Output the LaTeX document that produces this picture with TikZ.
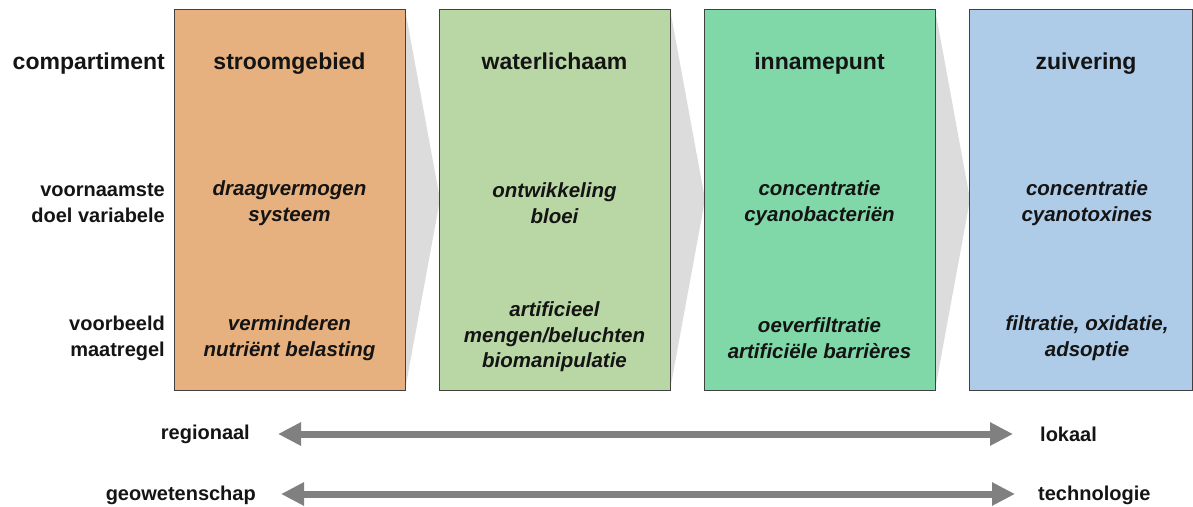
\documentclass[tikz,border=0pt]{standalone}
\usepackage{fontspec}
\setmainfont{Liberation Sans}
\usetikzlibrary{arrows.meta}
\definecolor{cOrange}{HTML}{E7B07F}
\definecolor{cLGreen}{HTML}{B8D7A4}
\definecolor{cMint}{HTML}{80D7A7}
\definecolor{cBlue}{HTML}{AECBE8}
\definecolor{cChev}{HTML}{DCDCDC}
\definecolor{cArrow}{HTML}{808080}
\definecolor{cBorder}{HTML}{404040}
\definecolor{cText}{HTML}{141414}
\begin{document}
\begin{tikzpicture}[x=1pt,y=-1pt,
  box/.style={draw=cBorder, line width=0.9pt, minimum width=231pt, minimum height=381pt, inner sep=0pt},
  hdr/.style={font=\fontsize{23}{27}\selectfont\bfseries, text=cText, inner sep=0pt, anchor=base},
  rowlab/.style={font=\fontsize{20}{26}\selectfont\bfseries, text=cText, inner sep=0pt, align=right, anchor=east},
  cell/.style={font=\fontsize{20.5}{25.5}\selectfont\bfseries\itshape, text=cText, inner sep=0pt, align=center},
  scalelab/.style={font=\fontsize{20}{24}\selectfont\bfseries, text=cText, inner sep=0pt},
  chev/.style={fill=cChev},
  arr/.style={line width=7pt, draw=cArrow, arrows={Triangle[width=22pt,length=23pt]-Triangle[width=22pt,length=23pt]}}
]
\useasboundingbox (0,0) rectangle (1193,506);
\fill[white] (0,0) rectangle (1193,506);
% chevrons between the boxes
\fill[chev] (405,9) -- (440,199.5) -- (405,390) -- cycle;
\fill[chev] (670,9) -- (705,199.5) -- (670,390) -- cycle;
\fill[chev] (935,9) -- (970,199.5) -- (935,390) -- cycle;
% boxes
\node[box, fill=cOrange] (b1) at (289.5,199.5) {};
\node[box, fill=cLGreen] (b2) at (554.5,199.5) {};
\node[box, fill=cMint] (b3) at (819.5,199.5) {};
\node[box, fill=cBlue, minimum width=223pt] (b4) at (1080.5,199.5) {};
% row labels
\node[hdr, anchor=base east] (l1) at (165,69) {compartiment};
\node[rowlab] (l2) at (165,203) {voornaamste\\doel variabele};
\node[rowlab] (l3) at (165,338) {voorbeeld\\maatregel};
% headers
\node[hdr] (h1) at (289.5,69) {stroomgebied};
\node[hdr] (h2) at (554.5,69) {waterlichaam};
\node[hdr] (h3) at (819.5,69) {innamepunt};
\node[hdr] (h4) at (1086,69) {zuivering};
% target variables
\node[cell] (t1) at (289.5,203) {draagvermogen\\systeem};
\node[cell] (t2) at (554.5,203) {ontwikkeling\\bloei};
\node[cell] (t3) at (819.5,203) {concentratie\\cyanobacteriën};
\node[cell] (t4) at (1087,203) {concentratie\\cyanotoxines};
% measures
\node[cell] (m1) at (289.5,338) {verminderen\\nutriënt belasting};
\node[cell] (m2) at (554.5,337) {artificieel\\mengen/beluchten\\biomanipulatie};
\node[cell] (m3) at (819.5,338) {oeverfiltratie\\artificiële barrières};
\node[cell] (m4) at (1087,338) {filtratie, oxidatie,\\adsoptie};
% scale arrows
\node[scalelab, anchor=east] (s1l) at (250,434) {regionaal};
\node[scalelab, anchor=west] (s1r) at (1040,434) {lokaal};
\node[scalelab, anchor=east] (s2l) at (256,495) {geowetenschap};
\node[scalelab, anchor=west] (s2r) at (1038,495) {technologie};
\coordinate (a1l) at (278,434);
\coordinate (a1r) at (1013,434);
\coordinate (a2l) at (281,494);
\coordinate (a2r) at (1015,494);
\draw[arr] (a1l) -- (a1r);
\draw[arr] (a2l) -- (a2r);
\end{tikzpicture}
\end{document}
